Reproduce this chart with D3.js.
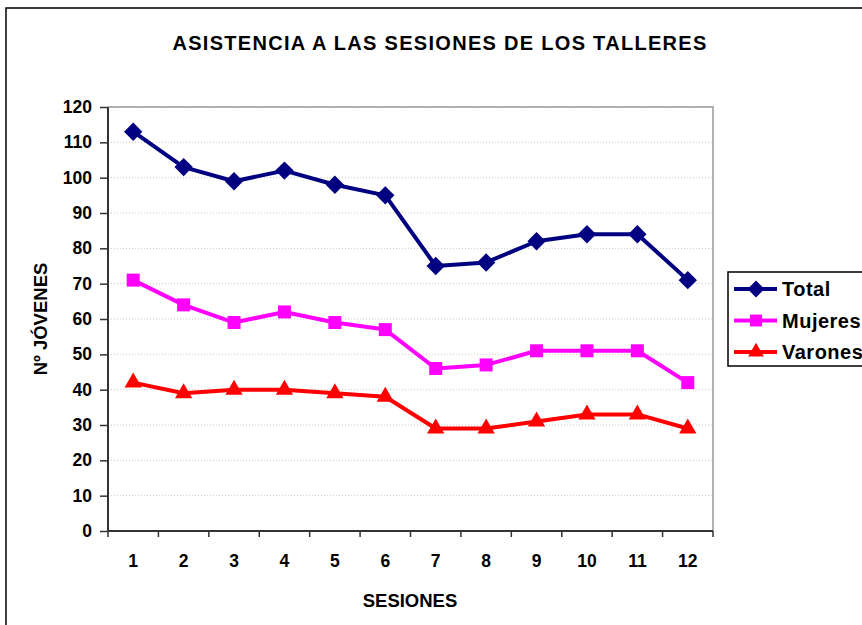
<!DOCTYPE html>
<html>
<head>
<meta charset="utf-8">
<script src="https://cdn.jsdelivr.net/npm/d3@7"></script>
<style>
  body { margin: 0; background: #fff; }
  text { font-family: 'Liberation Sans', Arial, sans-serif; font-weight: bold; fill: #000; }
</style>
</head>
<body>
<div id="chart"></div>
<script>
let sesiones = ['1', '2', '3', '4', '5', '6', '7', '8', '9', '10', '11', '12']
let total = [113, 103, 99, 102, 98, 95, 75, 76, 82, 84, 84, 71]
let mujeres = [71, 64, 59, 62, 59, 57, 46, 47, 51, 51, 51, 42]
let varones = [42, 39, 40, 40, 39, 38, 29, 29, 31, 33, 33, 29]
let yTicks = [0, 10, 20, 30, 40, 50, 60, 70, 80, 90, 100, 110, 120]

let series = [
  { name: 'Total', values: total, color: '#000080', symbol: d3.symbolDiamond2 },
  { name: 'Mujeres', values: mujeres, color: '#FF00FF', symbol: d3.symbolSquare2 },
  { name: 'Varones', values: varones, color: '#FF0000', symbol: d3.symbolTriangle2 }
]

let width = 862
let height = 625
let margin = { top: 107, left: 108, right: 149, bottom: 94 }
let plotW = width - margin.left - margin.right
let plotH = height - margin.top - margin.bottom
let font = "'Liberation Sans', Arial, sans-serif"

let svg = d3
  .select('#chart')
  .append('svg')
  .attr('width', width)
  .attr('height', height)

// outer frame (cut off on the right and bottom)
svg
  .append('rect')
  .attr('x', 6)
  .attr('y', 8)
  .attr('width', 900)
  .attr('height', 700)
  .attr('fill', 'none')
  .attr('stroke', '#000')
  .attr('stroke-width', 1.5)

svg
  .append('text')
  .attr('x', 440)
  .attr('y', 50)
  .attr('text-anchor', 'middle')
  .attr('font-size', 20)
  .attr('letter-spacing', 1.3)
  .text('ASISTENCIA A LAS SESIONES DE LOS TALLERES')

let g = svg
  .append('g')
  .attr('transform', 'translate(' + margin.left + ',' + margin.top + ')')

let xBand = d3.scaleBand().domain(sesiones).range([0, plotW])
let x = d => xBand(d) + xBand.bandwidth() / 2
let y = d3.scaleLinear().domain([0, 120]).range([plotH, 0])

// gridlines
g.selectAll('.grid')
  .data(yTicks.slice(1))
  .enter()
  .append('line')
  .attr('x1', 0)
  .attr('x2', plotW)
  .attr('y1', d => y(d))
  .attr('y2', d => y(d))
  .attr('stroke', '#c8c8c8')
  .attr('stroke-width', 1)
  .attr('stroke-dasharray', '1,2')

// top and right border of plot area
g.append('path')
  .attr('d', 'M0,0H' + plotW + 'V' + plotH)
  .attr('fill', 'none')
  .attr('stroke', '#999')
  .attr('stroke-width', 1.5)

// y axis
let yAxis = g.append('g').call(
  d3.axisLeft(y).tickValues(yTicks).tickSize(8).tickPadding(8)
)
yAxis.select('.domain').attr('stroke', '#333').attr('stroke-width', 2).attr('d', 'M0,0V' + plotH)
yAxis.selectAll('.tick line').attr('stroke', '#333').attr('stroke-width', 1.5)
yAxis.selectAll('.tick text').attr('font-size', 17.5).attr('font-family', font).attr('font-weight', 'bold').attr('fill', '#000')

// x axis
let xAxis = g
  .append('g')
  .attr('transform', 'translate(0,' + plotH + ')')
  .call(d3.axisBottom(xBand).tickSize(0).tickPadding(24))
xAxis.select('.domain').attr('stroke', '#333').attr('stroke-width', 2).attr('d', 'M0,0H' + plotW)
xAxis.selectAll('.tick text').attr('font-size', 17.5).attr('font-family', font).attr('font-weight', 'bold').attr('fill', '#000')

g.selectAll('.xtick')
  .data(d3.range(sesiones.length + 1))
  .enter()
  .append('line')
  .attr('x1', d => d * xBand.step())
  .attr('x2', d => d * xBand.step())
  .attr('y1', plotH)
  .attr('y2', plotH + 6)
  .attr('stroke', '#333')
  .attr('stroke-width', 1.5)

svg
  .append('text')
  .attr('x', 410)
  .attr('y', 607)
  .attr('text-anchor', 'middle')
  .attr('font-size', 18.5)
  .text('SESIONES')

svg
  .append('text')
  .attr('transform', 'translate(47,319) rotate(-90)')
  .attr('text-anchor', 'middle')
  .attr('font-size', 18.5)
  .text('Nº JÓVENES')

let line = d3
  .line()
  .x((d, i) => x(sesiones[i]))
  .y(d => y(d))

series.forEach(s => {
  g.append('path')
    .datum(s.values)
    .attr('d', line)
    .attr('fill', 'none')
    .attr('stroke', s.color)
    .attr('stroke-width', 4)
    .attr('stroke-linejoin', 'round')

  g.selectAll('.m-' + s.name)
    .data(s.values)
    .enter()
    .append('path')
    .attr('d', d3.symbol().type(s.symbol).size(215))
    .attr('transform', (d, i) => 'translate(' + x(sesiones[i]) + ',' + y(d) + ')')
    .attr('fill', s.color)
})

// legend
let legend = svg.append('g').attr('transform', 'translate(728,272)')
legend
  .append('rect')
  .attr('width', 200)
  .attr('height', 94)
  .attr('fill', '#fff')
  .attr('stroke', '#000')
  .attr('stroke-width', 1.5)

series.forEach((s, i) => {
  let ly = 17 + i * 31.5
  legend
    .append('line')
    .attr('x1', 6)
    .attr('x2', 49)
    .attr('y1', ly)
    .attr('y2', ly)
    .attr('stroke', s.color)
    .attr('stroke-width', 4)
  legend
    .append('path')
    .attr('d', d3.symbol().type(s.symbol).size(180))
    .attr('transform', 'translate(28,' + ly + ')')
    .attr('fill', s.color)
  legend
    .append('text')
    .attr('x', 54)
    .attr('y', ly + 7)
    .attr('font-size', 20)
    .attr('letter-spacing', 0.5)
    .text(s.name)
})
</script>
</body>
</html>
